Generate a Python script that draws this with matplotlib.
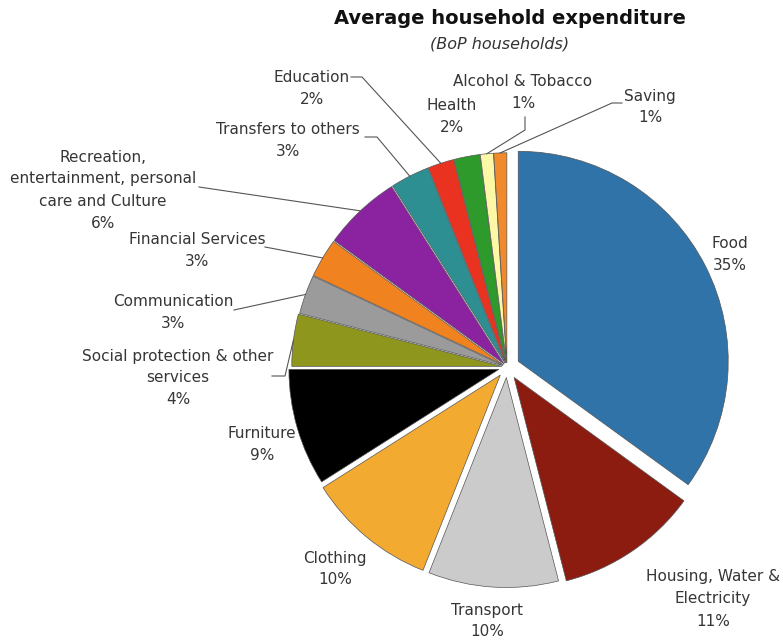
import matplotlib.pyplot as plt
import numpy as np

# expenditure shares, clockwise from 12 o'clock
categories = ["Food", "Housing, Water &\nElectricity", "Transport", "Clothing",
              "Furniture", "Social protection & other\nservices", "Communication",
              "Financial Services",
              "Recreation,\nentertainment, personal\ncare and Culture",
              "Transfers to others", "Education", "Health",
              "Alcohol & Tobacco", "Saving"]
shares = [35, 11, 10, 10, 9, 4, 3, 3, 6, 3, 2, 2, 1, 1]

colors = ["#2f73a8", "#8c1c10", "#cbcbcb", "#f2aa31", "#000000", "#8f961d",
          "#9b9b9b", "#f0821f", "#8b22a0", "#2e8f93", "#ea3221", "#2f9a2c",
          "#fdf8a6", "#f08a2c"]
explode = [0.06, 0.06, 0.05, 0.05, 0.04, 0.025, 0.02, 0.02, 0.02, 0.02,
           0.02, 0.02, 0.02, 0.02]

W, H = 783, 643
CX, CY, RP = 507, 367, 210   # pie centre and radius in pixels
LINE = 22                    # label line step in pixels


def px(x, y):
    return (x - CX) / RP, (CY - y) / RP


# label block centres (pixels)
label_pos = [(730, 255), (713, 599), (487, 621), (335, 569), (262, 444),
             (178, 378), (173, 312), (197, 251), (103, 190), (288, 140),
             (312, 88), (452, 117), (523, 93), (650, 107)]

# leader lines: points from label side, the wedge end is added later
leaders = {
    5: [(272, 376), (285, 376)],
    6: [(234, 310)],
    7: [(265, 247)],
    8: [(199, 187)],
    9: [(365, 137), (377, 137)],
    10: [(351, 77), (362, 77)],
    12: [(525, 117), (525, 130)],
    13: [(622, 103), (612, 103)],
}

fig = plt.figure(figsize=(W / 100, H / 100), dpi=100)
ax = fig.add_axes([0, 0, 1, 1])

wedges, _ = ax.pie(shares, colors=colors, explode=explode, startangle=90,
                   counterclock=False, radius=1,
                   wedgeprops=dict(edgecolor="#555555", linewidth=0.5))

ax.set_xlim(-CX / RP, (W - CX) / RP)
ax.set_ylim(-(H - CY) / RP, CY / RP)
ax.axis("off")

# each label line is its own text so blocks can sit close together
for i, (lab, s) in enumerate(zip(categories, shares)):
    lines = f"{lab}\n{s}%".split("\n")
    cx, cy = label_pos[i]
    top = cy - LINE * (len(lines) - 1) / 2
    for k, line in enumerate(lines):
        x, y = px(cx, top + k * LINE)
        ax.text(x, y, line, ha="center", va="center", fontsize=11,
                color="#363636")

for i, pts in leaders.items():
    w = wedges[i]
    mid = np.deg2rad((w.theta1 + w.theta2) / 2)
    ex = w.center[0] + w.r * np.cos(mid)
    ey = w.center[1] + w.r * np.sin(mid)
    xs = [px(*p)[0] for p in pts] + [ex]
    ys = [px(*p)[1] for p in pts] + [ey]
    ax.plot(xs, ys, color="#555555", lw=0.8)

tx, ty = px(510, 19)
ax.text(tx, ty, "Average household expenditure", ha="center", va="center",
        fontsize=14, fontweight="bold", color="#111111")
sx, sy = px(500, 44)
ax.text(sx, sy, "(BoP households)", ha="center", va="center",
        fontsize=11.5, style="italic", color="#333333")

fig.savefig("out.png", dpi=100)
